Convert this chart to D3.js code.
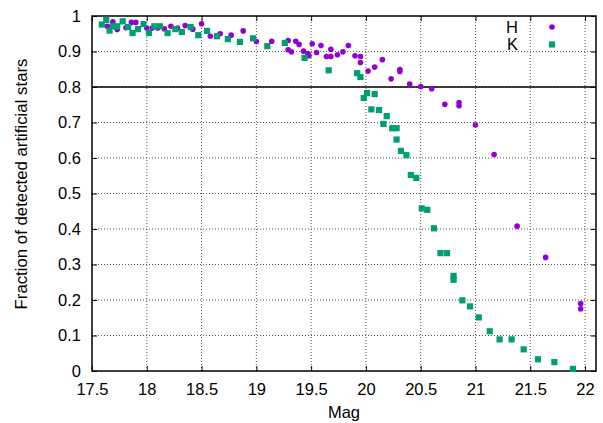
<!DOCTYPE html>
<html>
<head>
<meta charset="utf-8">
<script src="https://cdn.jsdelivr.net/npm/d3@7"></script>
<style>
  html, body { margin: 0; padding: 0; background: #fff; }
  svg { display: block; font-family: "Liberation Sans", Arial, Helvetica, sans-serif; }
</style>
</head>
<body>
<svg id="chart" width="603" height="423"></svg>
<script>
// ---- data ----
const hMag = [17.64,17.69,17.73,17.81,17.86,17.90,18.00,18.05,18.10,18.16,18.22,18.28,18.35,18.42,18.50,18.58,18.67,18.77,18.88,19.00,
  19.14,19.29,19.29,19.32,19.36,19.39,19.43,19.47,19.48,19.51,19.55,19.59,19.64,19.68,19.68,19.74,19.79,19.84,19.90,19.95,19.95,
  20.02,20.08,20.15,20.23,20.31,20.31,20.40,20.50,20.60,20.72,20.85,20.85,21.00,21.17,21.38,21.64,21.96,21.96];
const hFrac = [0.971,0.984,0.962,0.967,0.982,0.982,0.966,0.966,0.966,0.964,0.971,0.966,0.973,0.963,0.978,0.943,0.950,0.946,0.958,0.928,
  0.929,0.931,0.905,0.899,0.929,0.920,0.901,0.894,0.888,0.922,0.897,0.917,0.886,0.906,0.886,0.891,0.899,0.917,0.888,0.886,0.869,
  0.845,0.856,0.877,0.823,0.849,0.844,0.808,0.801,0.795,0.751,0.756,0.747,0.693,0.610,0.408,0.320,0.190,0.175];
const kMag = [17.59,17.63,17.66,17.69,17.73,17.78,17.83,17.87,17.92,17.97,18.02,18.07,18.12,18.19,18.26,18.32,18.40,18.47,18.55,18.64,
  18.74,18.85,18.97,19.10,19.26,19.44,19.66,19.92,19.95,20.01,19.98,20.08,20.05,20.12,20.19,20.16,20.24,20.28,20.28,20.32,20.37,
  20.41,20.46,20.51,20.56,20.62,20.68,20.74,20.80,20.80,20.88,20.95,21.03,21.13,21.22,21.33,21.44,21.57,21.72,21.89];
const kFrac = [0.976,0.989,0.959,0.971,0.971,0.985,0.969,0.952,0.963,0.977,0.952,0.971,0.971,0.952,0.963,0.955,0.969,0.946,0.958,0.943,
  0.935,0.927,0.937,0.915,0.924,0.882,0.847,0.839,0.828,0.783,0.769,0.780,0.737,0.735,0.718,0.696,0.684,0.684,0.652,0.620,0.608,
  0.552,0.544,0.458,0.454,0.402,0.332,0.332,0.268,0.257,0.199,0.182,0.151,0.112,0.089,0.089,0.061,0.033,0.025,0.006];
const xTicks = [17.5,18,18.5,19,19.5,20,20.5,21,21.5,22];
const yTicks = [0,0.1,0.2,0.3,0.4,0.5,0.6,0.7,0.8,0.9,1];
const xDomain = [17.5, 22.1];
const yDomain = [0, 1];
const refLine = 0.8;
const seriesNames = ["H", "K"];
const seriesColors = ["#9400d3", "#009e73"];
const xTitle = "Mag";
const yTitle = "Fraction of detected artificial stars";

// ---- layout ----
const L = 92, R = 596, T = 16, B = 371;
const fs = 16.5;
const svg = d3.select("#chart");
const x = d3.scaleLinear().domain(xDomain).range([L, R]);
const y = d3.scaleLinear().domain(yDomain).range([B, T]);

// grid
const grid = svg.append("g");
grid.selectAll("line.gx").data(xTicks.filter(d => d > xDomain[0])).enter().append("line")
  .attr("x1", d => x(d)).attr("x2", d => x(d)).attr("y1", T).attr("y2", B)
  .attr("stroke", "#555").attr("stroke-width", 1).attr("stroke-dasharray", "1,2");
grid.selectAll("line.gy").data(yTicks.filter(d => d > yDomain[0] && d < yDomain[1])).enter().append("line")
  .attr("x1", L).attr("x2", R).attr("y1", d => y(d)).attr("y2", d => y(d))
  .attr("stroke", "#555").attr("stroke-width", 1).attr("stroke-dasharray", "1,2");

// reference line
svg.append("line").attr("x1", L).attr("x2", R).attr("y1", y(refLine)).attr("y2", y(refLine))
  .attr("stroke", "#000").attr("stroke-width", 1.3);

// axes (inward ticks, mirrored)
const fmt = d => String(d);
const xb = svg.append("g").attr("transform", `translate(0,${B})`)
  .call(d3.axisBottom(x).tickValues(xTicks).tickFormat(fmt).tickSizeInner(-5).tickSizeOuter(0).tickPadding(12));
const xt = svg.append("g").attr("transform", `translate(0,${T})`)
  .call(d3.axisTop(x).tickValues(xTicks).tickFormat("").tickSizeInner(-5).tickSizeOuter(0));
const yl = svg.append("g").attr("transform", `translate(${L},0)`)
  .call(d3.axisLeft(y).tickValues(yTicks).tickFormat(fmt).tickSizeInner(-5).tickSizeOuter(0).tickPadding(11));
const yr = svg.append("g").attr("transform", `translate(${R},0)`)
  .call(d3.axisRight(y).tickValues(yTicks).tickFormat("").tickSizeInner(-5).tickSizeOuter(0));
[xb, xt, yl, yr].forEach(g => {
  g.select(".domain").remove();
  g.selectAll(".tick line").attr("stroke", "#000").attr("stroke-width", 1);
  g.selectAll(".tick text").attr("fill", "#000").style("font-size", fs + "px").style("font-family", null);
});

// border
svg.append("rect").attr("x", L).attr("y", T).attr("width", R - L).attr("height", B - T)
  .attr("fill", "none").attr("stroke", "#000").attr("stroke-width", 1.5);

// series H (circles)
svg.append("g").selectAll("circle").data(d3.zip(hMag, hFrac)).enter().append("circle")
  .attr("cx", d => x(d[0])).attr("cy", d => y(d[1])).attr("r", 2.8).attr("fill", seriesColors[0]);
// series K (squares)
const sq = 6.2;
svg.append("g").selectAll("rect").data(d3.zip(kMag, kFrac)).enter().append("rect")
  .attr("x", d => x(d[0]) - sq / 2).attr("y", d => y(d[1]) - sq / 2).attr("width", sq).attr("height", sq)
  .attr("fill", seriesColors[1]);

// legend
const lg = svg.append("g");
seriesNames.forEach((n, i) => {
  const ly = 27 + i * 17.5;
  lg.append("text").attr("x", 518).attr("y", ly).attr("dy", "0.36em").attr("text-anchor", "end")
    .style("font-size", fs + "px").text(n);
  if (i === 0) lg.append("circle").attr("cx", 552).attr("cy", ly).attr("r", 2.8).attr("fill", seriesColors[0]);
  else lg.append("rect").attr("x", 552 - sq / 2).attr("y", ly - sq / 2).attr("width", sq).attr("height", sq).attr("fill", seriesColors[1]);
});

// titles
svg.append("text").attr("x", (L + R) / 2).attr("y", 418).attr("text-anchor", "middle")
  .style("font-size", fs + "px").text(xTitle);
svg.append("text").attr("transform", `translate(26.5,184) rotate(-90)`).attr("text-anchor", "middle")
  .style("font-size", "16.8px").text(yTitle);
</script>
</body>
</html>
